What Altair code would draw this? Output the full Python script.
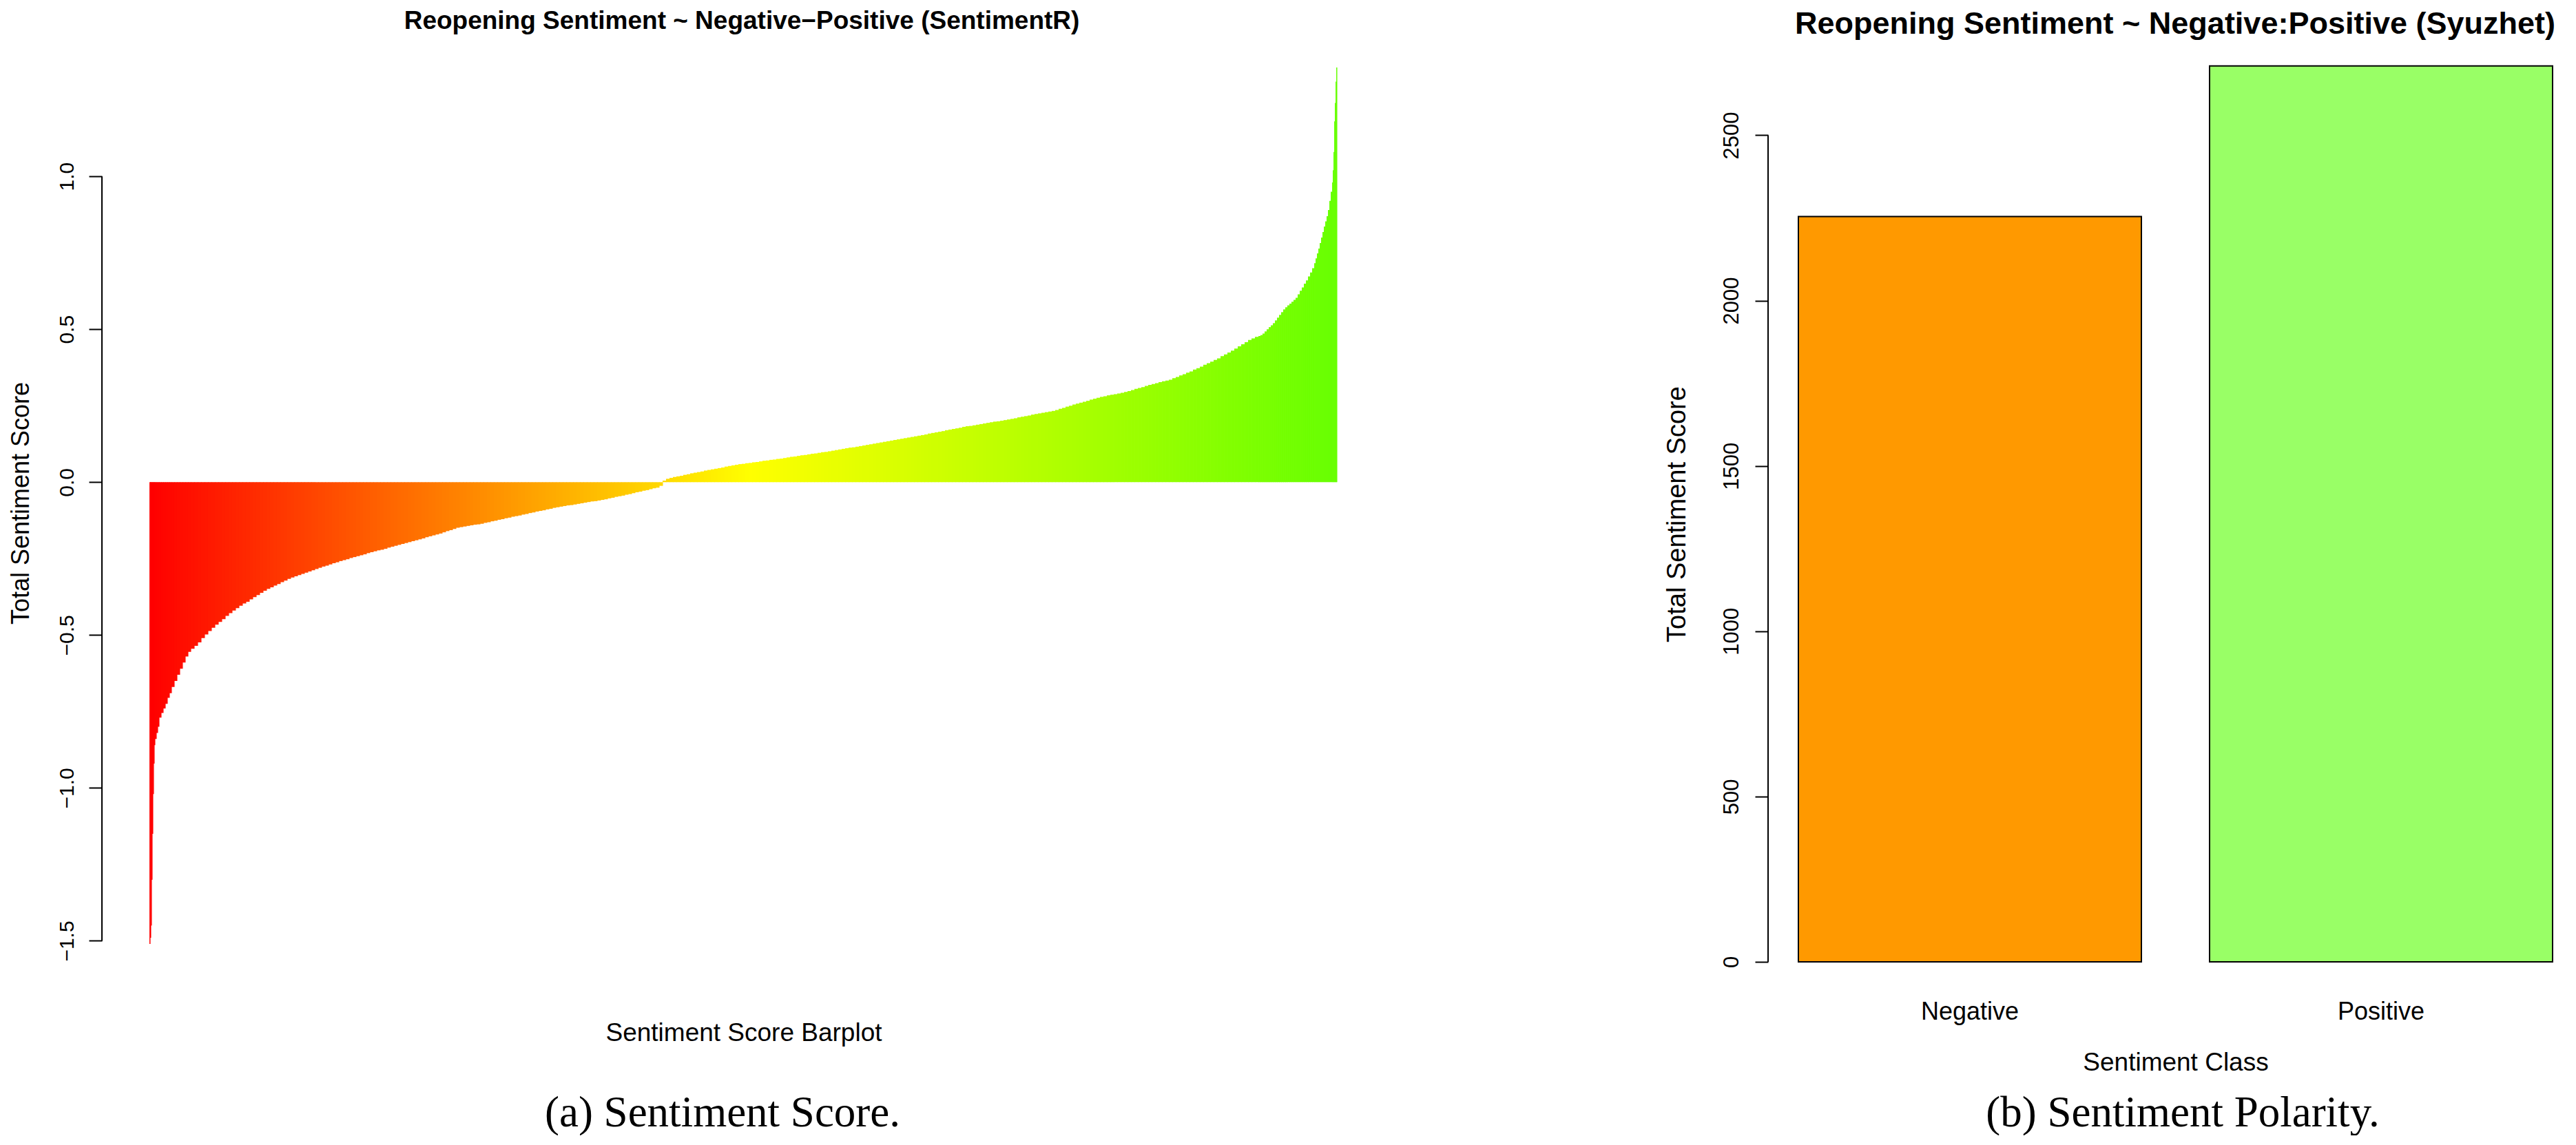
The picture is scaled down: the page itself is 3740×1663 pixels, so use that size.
import altair as alt
import pandas as pd

# ---------------- data ----------------
# Sorted sentence sentiment scores (SentimentR), read from the barplot.
# rank = position of the sentence in the sorted order (0 .. n_sentences),
# sampled densely in the steep tails and every 5 sentences in the body.
n_sentences = 1724

rank_head = [0, 1, 2, 3, 4, 5, 6, 7, 8, 10, 12, 14, 17, 20, 23, 26, 29, 32, 36,
             40, 44, 48, 52, 56, 60, 65, 70, 75, 80, 85, 90, 95, 100]
score_head = [-1.51, -1.49, -1.45, -1.30, -1.15, -1.02, -0.92, -0.86, -0.84, -0.82,
              -0.80, -0.77, -0.755, -0.74, -0.725, -0.705, -0.69, -0.67, -0.65,
              -0.63, -0.61, -0.59, -0.57, -0.555, -0.545, -0.535, -0.524, -0.51,
              -0.498, -0.487, -0.476, -0.466, -0.457]

rank_body = list(range(105, 1610, 5))
score_body = [
    -0.448, -0.437, -0.428, -0.42, -0.412, -0.404, -0.397, -0.391, -0.383,
    -0.376, -0.369, -0.362, -0.355, -0.349, -0.344, -0.338, -0.333, -0.327, -0.322,
    -0.316, -0.312, -0.308, -0.304, -0.300, -0.296, -0.292, -0.288, -0.284, -0.280,
    -0.276, -0.273, -0.269, -0.265, -0.262, -0.258, -0.255, -0.252, -0.248, -0.245,
    -0.242, -0.239, -0.236, -0.232, -0.229, -0.226, -0.223, -0.221, -0.218, -0.214,
    -0.211, -0.208, -0.205, -0.202, -0.199, -0.196, -0.193, -0.190, -0.187, -0.184,
    -0.180, -0.177, -0.174, -0.171, -0.168, -0.164, -0.160, -0.157, -0.153, -0.149,
    -0.147, -0.145, -0.143, -0.141, -0.139, -0.138, -0.136, -0.133, -0.131, -0.128,
    -0.126, -0.123, -0.121, -0.118, -0.116, -0.113, -0.111, -0.109, -0.106, -0.104,
    -0.101, -0.099, -0.096, -0.094, -0.092, -0.089, -0.087, -0.084, -0.082, -0.080,
    -0.078, -0.076, -0.075, -0.073, -0.071, -0.069, -0.067, -0.065, -0.063, -0.062,
    -0.060, -0.058, -0.056, -0.053, -0.051, -0.048, -0.046, -0.044, -0.041, -0.039,
    -0.036, -0.033, -0.031, -0.028, -0.026, -0.023, -0.020, -0.018, -0.012, 0.005,
    0.011, 0.014, 0.017, 0.019, 0.021, 0.024, 0.026, 0.029, 0.031, 0.033,
    0.035, 0.038, 0.040, 0.042, 0.044, 0.046, 0.048, 0.051, 0.053, 0.055,
    0.057, 0.059, 0.060, 0.062, 0.063, 0.065, 0.066, 0.068, 0.070, 0.071,
    0.073, 0.074, 0.076, 0.077, 0.079, 0.081, 0.083, 0.084, 0.086, 0.088,
    0.089, 0.091, 0.093, 0.094, 0.096, 0.098, 0.099, 0.101, 0.103, 0.105,
    0.107, 0.109, 0.111, 0.113, 0.114, 0.116, 0.118, 0.120, 0.122, 0.124,
    0.126, 0.128, 0.130, 0.132, 0.134, 0.136, 0.138, 0.140, 0.142, 0.144,
    0.146, 0.148, 0.150, 0.152, 0.154, 0.156, 0.159, 0.161, 0.163, 0.165,
    0.167, 0.170, 0.172, 0.174, 0.176, 0.178, 0.181, 0.183, 0.184, 0.186,
    0.188, 0.190, 0.192, 0.194, 0.196, 0.198, 0.199, 0.201, 0.203, 0.205,
    0.207, 0.209, 0.212, 0.214, 0.216, 0.218, 0.221, 0.223, 0.225, 0.227,
    0.229, 0.231, 0.233, 0.236, 0.240, 0.243, 0.247, 0.250, 0.254, 0.257,
    0.260, 0.263, 0.266, 0.270, 0.273, 0.276, 0.279, 0.281, 0.284, 0.286,
    0.288, 0.290, 0.292, 0.295, 0.298, 0.301, 0.305, 0.308, 0.311, 0.315,
    0.318, 0.321, 0.324, 0.327, 0.330, 0.332, 0.335, 0.340, 0.344, 0.349,
    0.353, 0.358, 0.362, 0.368, 0.373, 0.378, 0.384, 0.389, 0.394, 0.400,
    0.405, 0.412, 0.418, 0.424, 0.430, 0.437, 0.444, 0.451, 0.458, 0.465,
    0.470, 0.475,
]

rank_tail = [1610, 1613, 1616, 1619, 1622, 1625, 1628, 1631, 1634, 1637, 1640, 1643,
             1646, 1649, 1652, 1655, 1658, 1661, 1664, 1667, 1670, 1673, 1676, 1679,
             1682, 1685, 1688, 1691, 1693, 1695, 1697, 1699, 1701, 1703, 1705, 1707,
             1709, 1711, 1713, 1715, 1717, 1718, 1719, 1720, 1721, 1722, 1723]
score_tail = [0.478, 0.481, 0.486, 0.493, 0.500, 0.507, 0.513, 0.520, 0.529, 0.538,
              0.547, 0.556, 0.565, 0.572, 0.578, 0.584, 0.590, 0.596, 0.603, 0.614,
              0.626, 0.637, 0.649, 0.660, 0.673, 0.686, 0.700, 0.716, 0.732, 0.748,
              0.764, 0.782, 0.800, 0.818, 0.836, 0.853, 0.870, 0.890, 0.920, 0.950,
              0.980, 1.020, 1.080, 1.180, 1.240, 1.310, 1.356]

score_ticks = [-1.5, -1.0, -0.5, 0.0, 0.5, 1.0]
gradient = ["#FF0000", "#FFFF00", "#66FF00"]

classes = ["Negative", "Positive"]
totals = [2254, 2710]
class_colors = ["#FF9900", "#99FF66"]
total_ticks = [0, 500, 1000, 1500, 2000, 2500]

title_a = "Reopening Sentiment ~ Negative\u2212Positive (SentimentR)"
title_b = "Reopening Sentiment ~ Negative:Positive (Syuzhet)"
ytitle = "Total Sentiment Score"
xlabel_a = "Sentiment Score Barplot"
xlabel_b = "Sentiment Class"
caption_a = "(a) Sentiment Score."
caption_b = "(b) Sentiment Polarity."

SANS = "Liberation Sans"
SERIF = "Liberation Serif"


def label(text, x, y, size, weight="normal", font=SANS, angle=0):
    return alt.Chart(alt.Data(values=[{}])).mark_text(
        text=text, font=font, fontSize=size, fontWeight=weight, angle=angle,
        align="center", baseline="alphabetic", color="black"
    ).encode(x=alt.value(x), y=alt.value(y))


# ---------------- left panel ----------------
ranks = rank_head + rank_body + rank_tail
scores = score_head + score_body + score_tail
assert len(ranks) == len(scores)
df1 = pd.DataFrame({"rank": ranks, "score": scores,
                    "end": ranks[1:] + [n_sentences]})

W1, H1 = 1862, 1375
pad = 0.04 * n_sentences
xs1 = alt.Scale(domain=[-pad, n_sentences + pad], nice=False, zero=False)
ys1 = alt.Scale(domain=[-1.625, 1.471], nice=False, zero=False)

bars1 = alt.Chart(df1).transform_calculate(end2="datum.end + 0.5").mark_bar(strokeWidth=0).encode(
    x=alt.X("rank:Q", scale=xs1, axis=None),
    x2="end2:Q",
    y=alt.Y("score:Q", scale=ys1, axis=alt.Axis(
        values=score_ticks, format=".1f", title=None, domain=False, grid=False,
        ticks=True, tickSize=19, tickWidth=2, tickColor="black",
        labelAngle=270, labelAlign="center", labelBaseline="alphabetic",
        labelPadding=23, labelFont=SANS, labelFontSize=30, labelColor="black",
        labelFlush=False, labelOverlap=False, labelBound=False)),
    y2=alt.datum(0),
    color=alt.Color("rank:Q", scale=alt.Scale(domain=[0, 870, n_sentences - 1],
                                              range=gradient, interpolate="rgb"),
                    legend=None),
)
axis1 = alt.Chart(alt.Data(values=[{}])).mark_rule(color="black", strokeWidth=2).encode(
    x=alt.value(0), y=alt.datum(score_ticks[-1]), y2=alt.datum(score_ticks[0]))
anchor = alt.Chart(alt.Data(values=[{}])).mark_rule(opacity=0).encode(
    x=alt.value(-140), y=alt.value(-39), y2=alt.value(-37))

left = alt.layer(
    bars1, axis1, anchor,
    label(title_a, 929, -5, 37, weight="bold"),
    label(ytitle, -106, 684, 36, angle=270),
    label(xlabel_a, 932, 1465, 37),
    label(caption_a, 901, 1589, 63, font=SERIF),
).properties(width=W1, height=H1)

# ---------------- right panel ----------------
W2, H2 = 1095, 1402
df2 = pd.DataFrame({"cls": classes, "total": totals})
ys2 = alt.Scale(domain=[-108.3, 2811.3], nice=False, zero=False)
xs2 = alt.Scale(domain=classes, paddingInner=0.1658, paddingOuter=0)

bars2 = alt.Chart(df2).mark_bar(stroke="black", strokeWidth=2).encode(
    x=alt.X("cls:N", scale=xs2, axis=alt.Axis(
        title=None, domain=False, ticks=False, tickSize=0, labelAngle=0,
        labelFont=SANS, labelFontSize=36, labelColor="black", labelPadding=31,
        labelBaseline="alphabetic")),
    y=alt.Y("total:Q", scale=ys2, axis=alt.Axis(
        values=total_ticks, format="d", title=None, domain=False, grid=False, offset=44,
        tickSize=19, tickWidth=2, tickColor="black",
        labelAngle=270, labelAlign="center", labelBaseline="alphabetic",
        labelPadding=25, labelFont=SANS, labelFontSize=31, labelColor="black",
        labelFlush=False, labelOverlap=False, labelBound=False)),
    y2=alt.datum(0),
    color=alt.Color("cls:N", scale=alt.Scale(domain=classes, range=class_colors), legend=None),
)
axis2 = alt.Chart(alt.Data(values=[{}])).mark_rule(color="black", strokeWidth=2).encode(
    x=alt.value(-44), y=alt.datum(total_ticks[-1]), y2=alt.datum(total_ticks[0]))

right = alt.layer(
    bars2, axis2,
    label(title_b, 547, 2, 45, weight="bold"),
    label(ytitle, -164, 700, 38, angle=270),
    label(xlabel_b, 548, 1508, 37),
    label(caption_b, 558, 1589, 63, font=SERIF),
).properties(width=W2, height=H2)

chart = alt.hconcat(left, right, spacing=601, bounds="flush").properties(
    padding=0
).configure_view(stroke=None)

chart.save("out.html", embed_options={"renderer": "svg", "actions": False})
